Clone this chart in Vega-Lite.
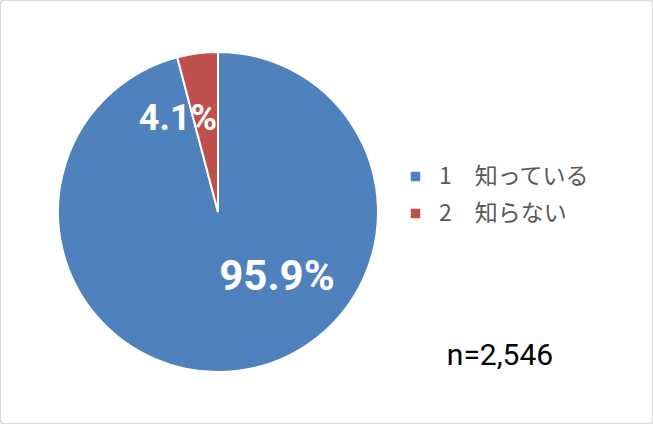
{
  "$schema": "https://vega.github.io/schema/vega-lite/v6.json",
  "width": 653,
  "height": 424,
  "autosize": "none",
  "padding": 0,
  "background": "white",
  "view": {"stroke": "#d9d9d9", "strokeWidth": 2, "cornerRadius": 4},
  "data": {"values": [
    {"order": 1, "answer": "1　知っている", "pct": 95.9, "label": "95.9%"},
    {"order": 2, "answer": "2　知らない", "pct": 4.1, "label": "4.1%"}
  ]},
  "layer": [
    {
      "mark": {"type": "arc", "x": 218, "y": 212, "outerRadius": 160, "stroke": "white", "strokeWidth": 2},
      "encoding": {
        "theta": {"field": "pct", "type": "quantitative", "stack": true},
        "order": {"field": "order", "type": "quantitative"},
        "color": {
          "field": "answer", "type": "nominal",
          "scale": {"domain": ["1　知っている", "2　知らない"], "range": ["#4f81bd", "#c0504d"]},
          "legend": {
            "title": null, "orient": "none", "legendX": 404, "legendY": 165,
            "symbolType": "square", "symbolSize": 90, "symbolStrokeWidth": 0,
            "labelFontSize": 23, "labelColor": "#595959", "labelFont": "Noto Sans CJK JP",
            "rowPadding": 13, "labelOffset": 12, "labelLimit": 300
          }
        }
      }
    },
    {
      "transform": [{"filter": "datum.order == 1"}],
      "mark": {"type": "text", "x": 277, "y": 277, "fontSize": 42, "fontWeight": "bold", "color": "white", "font": "Roboto"},
      "encoding": {"text": {"field": "label"}}
    },
    {
      "transform": [{"filter": "datum.order == 2"}],
      "mark": {"type": "text", "x": 178, "y": 119, "fontSize": 36, "fontWeight": "bold", "color": "white", "font": "Roboto"},
      "encoding": {"text": {"field": "label"}}
    },
    {
      "data": {"values": [{"note": "n=2,546"}]},
      "mark": {"type": "text", "x": 500, "y": 356, "fontSize": 30, "color": "black", "font": "Roboto"},
      "encoding": {"text": {"field": "note"}}
    }
  ]
}
